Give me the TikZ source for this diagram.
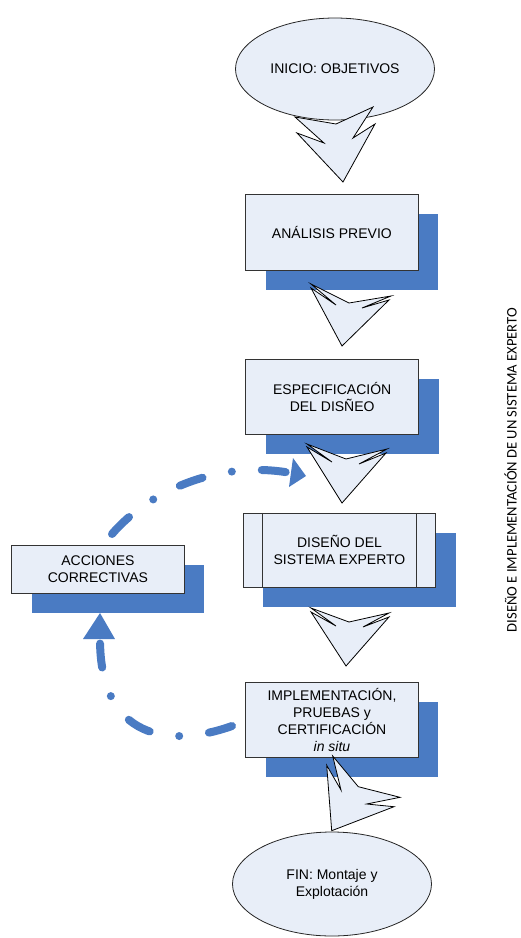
\documentclass[tikz,border=0pt]{standalone}
\usepackage{fontspec}
\setmainfont{Liberation Sans}
\newfontfamily\sidefont{Carlito}
\usetikzlibrary{shapes.geometric,shadows,calc}
\definecolor{shadowblue}{HTML}{4A7BC3}
\definecolor{lightfill}{HTML}{E8EEF8}
\begin{document}
\begin{tikzpicture}[x=1pt,y=-1pt,
  txt/.style={font=\fontsize{14}{17.2}\selectfont, align=center, text=black},
  box/.style={txt, rectangle, draw=black!80, line width=0.9pt, fill=lightfill, inner sep=0pt,
    drop shadow={shadow xshift=20pt, shadow yshift=-19.5pt, fill=shadowblue, opacity=1}},
  boxline/.style={draw=black!80, line width=0.9pt},
  oval/.style={txt, ellipse, draw=black!85, line width=0.8pt, fill=lightfill, inner sep=0pt,
    minimum width=199pt, minimum height=102pt},
  blockarrow/.style={draw=black, line width=0.8pt, fill=lightfill, line join=miter},
  loopline/.style={draw=shadowblue, line width=8pt, line cap=round,
    dash pattern=on 24pt off 30pt on 0pt off 30pt},
  loophead/.style={fill=shadowblue}]
\useasboundingbox (0,0) rectangle (520,938);

% ellipses
\node[oval] (inicio) at (335,69) {INICIO: OBJETIVOS};
\node[oval, minimum height=104pt] (fin) at (332,884) {FIN: Montaje y\\Explotación};

% boxes
\node[box, minimum width=172.3pt, minimum height=76pt] (analisis) at (331.9,232) {ANÁLISIS PREVIO};
\node[box, minimum width=173pt, minimum height=75pt] (espec) at (332.2,396.8) {ESPECIFICACIÓN\\DEL DISÑEO};
\node[box, minimum width=192.4pt, minimum height=74pt] (diseno) at (339.5,550.3) {DISEÑO DEL\\SISTEMA EXPERTO};
\draw[boxline] ([xshift=20pt]diseno.north west) -- ([xshift=20pt]diseno.south west);
\draw[boxline] ([xshift=-20pt]diseno.north east) -- ([xshift=-20pt]diseno.south east);
\node[box, minimum width=172.6pt, minimum height=75.4pt] (impl) at (332,720) {IMPLEMENTACIÓN,\\PRUEBAS y\\CERTIFICACIÓN\\\textit{in situ}};
\node[box, minimum width=172.3pt, minimum height=47.6pt] (acciones) at (97.9,569.5) {ACCIONES\\CORRECTIVAS};

% feedback loop connectors
\coordinate (uS) at (112,534);
\coordinate (uE) at (291,473);
\coordinate (uT) at (306,476);
\draw[loopline] (uS) .. controls (150,490) and (220,460) .. (uE);
\fill[loophead] (uT) -- (293,458) -- (289,487) -- cycle;

\coordinate (lS) at (232,726);
\coordinate (lE) at (100,639);
\coordinate (lT) at (100,613);
\draw[loopline] (lS) .. controls (170,748) and (100,740) .. (lE);
\fill[loophead] (lT) -- (83,639) -- (115,639) -- cycle;

% block arrows
\draw[blockarrow] (336,124) -- (373,107) -- (353,138) -- (375,124) -- (343,182) -- (297,133) -- (324,143) -- (295,117) -- cycle;
\draw[blockarrow] (349,303) -- (391,296) -- (362,308) -- (389,300) -- (342,346) -- (311,288) -- (336,305) -- (311,284) -- cycle;
\draw[blockarrow] (346,459) -- (387,449) -- (359,464) -- (386,453) -- (342,503) -- (307,447) -- (332,462) -- (307,444) -- cycle;
\draw[blockarrow] (349,622) -- (389,613) -- (363,627) -- (389,617) -- (346,666) -- (311,612) -- (336,626) -- (311,608) -- cycle;
\draw[blockarrow] (332.7,756) -- (358.3,786.7) -- (400,797.3) -- (366.7,804) -- (394,806.7) -- (331.7,830.7) -- (326.7,765.3) -- (341,790) -- cycle;

% side title
\node[font=\sidefont\fontsize{14.6}{16}\selectfont, rotate=90, anchor=base, inner sep=0pt] (side) at (516.5,470) {DISEÑO E IMPLEMENTACIÓN DE UN SISTEMA EXPERTO};
\end{tikzpicture}
\end{document}
